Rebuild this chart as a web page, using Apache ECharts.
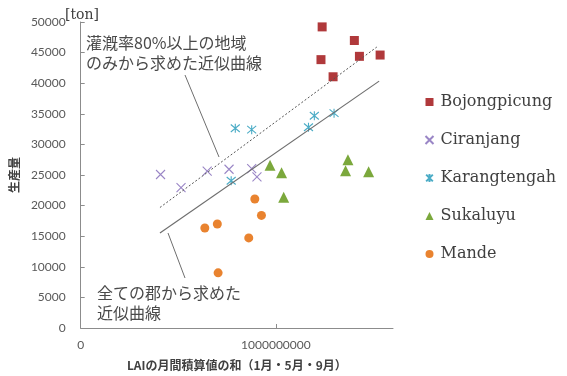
<!DOCTYPE html>
<html>
<head>
<meta charset="utf-8">
<script src="https://cdn.jsdelivr.net/npm/echarts@6/dist/echarts.min.js"></script>
<style>html,body{margin:0;padding:0;background:#fff}#c{width:567px;height:376px}</style>
</head>
<body>
<div id="c"></div>
<script>
// ---- data (x: LAI monthly accumulated sum, y: production [ton]) ----
const seriesNames = ['Bojongpicung', 'Ciranjang', 'Karangtengah', 'Sukaluyu', 'Mande'];
const bojongpicung = [[1.237e9, 49200], [1.231e9, 43850], [1.402e9, 46980], [1.428e9, 44390], [1.534e9, 44600], [1.293e9, 41050]];
const ciranjang = [[0.409e9, 25080], [0.514e9, 22930], [0.648e9, 25620], [0.760e9, 25940], [0.876e9, 26050], [0.903e9, 24710]];
const karangtengah = [[0.792e9, 32640], [0.876e9, 32410], [1.167e9, 32800], [1.197e9, 34680], [1.298e9, 35110], [0.771e9, 24060]];
const sukaluyu = [[0.970e9, 26590], [1.029e9, 25360], [1.040e9, 21360], [1.369e9, 27510], [1.357e9, 25680], [1.475e9, 25520]];
const mande = [[0.892e9, 21080], [0.926e9, 18400], [0.636e9, 16340], [0.700e9, 16990], [0.861e9, 14720], [0.704e9, 9010]];
const trendAll = [[0.406e9, 15530], [1.529e9, 40340]];
const trendIrrigated = [[0.406e9, 19690], [1.517e9, 45910]];
const xTickValues = [0, 1000000000];
const xAxisName = 'LAIの月間積算値の和（1月・5月・9月）';
const yAxisName = '生産量';
const unitLabel = '[ton]';
const noteIrrigated = '灌漑率80%以上の地域\nのみから求めた近似曲線';
const noteAll = '全ての郡から求めた\n近似曲線';

const colors = ['#B0393B', '#9A86C6', '#4BACC6', '#7BA83C', '#E9832F'];
const chart = echarts.init(document.getElementById('c'), null, {renderer: 'canvas'});
const axisColor = '#8C8C8C';
const labelFont = {color: '#595959', fontFamily: 'Lato, "Liberation Sans", sans-serif', fontSize: 12};

function scatter(name, data, symbol, size, color, stroke) {
  return {
    name: name, type: 'scatter', data: data, symbol: symbol, symbolSize: size,
    itemStyle: stroke ? {color: 'none', borderColor: color, borderWidth: 1.1, opacity: 1} : {color: color, opacity: 1},
    emphasis: {disabled: true}, z: 3
  };
}

chart.setOption({
  animation: false,
  grid: {left: 77, right: 174, top: 22, bottom: 45, containLabel: false},
  xAxis: {
    type: 'value', min: 0, max: 1.6e9,
    name: xAxisName, nameLocation: 'middle', nameGap: 31,
    nameTextStyle: {color: '#404040', fontSize: 12, fontWeight: 'bold', fontFamily: '"Noto Sans CJK JP", sans-serif'},
    axisLine: {show: true, lineStyle: {color: axisColor, width: 1}},
    axisTick: {show: true, inside: true, length: 4, customValues: [1000000000], lineStyle: {color: axisColor}},
    axisLabel: Object.assign({margin: 11, customValues: xTickValues, formatter: v => String(v)}, labelFont),
    splitLine: {show: false}
  },
  yAxis: {
    type: 'value', min: 0, max: 50000, interval: 5000,
    name: yAxisName, nameLocation: 'middle', nameGap: 56, nameRotate: 90,
    nameTextStyle: {color: '#404040', fontSize: 12, fontWeight: 'bold', fontFamily: '"Noto Sans CJK JP", sans-serif'},
    axisLine: {show: true, lineStyle: {color: axisColor, width: 1}},
    axisTick: {show: true, inside: true, length: 4, lineStyle: {color: axisColor}},
    axisLabel: Object.assign({margin: 15, formatter: v => String(v)}, labelFont),
    splitLine: {show: false}
  },
  legend: {
    orient: 'vertical', left: 418, top: 89,
    data: seriesNames,
    itemWidth: 8, itemHeight: 8, itemGap: 22,
    textStyle: {color: '#404040', fontSize: 16, fontFamily: '"DejaVu Serif", serif', lineHeight: 16, padding: [0, 0, 0, 2]}
  },
  series: [
    scatter(seriesNames[0], bojongpicung, 'rect', 9, colors[0], false),
    scatter(seriesNames[1], ciranjang, 'path://M0,0L10,10M10,0L0,10', 9, colors[1], true),
    scatter(seriesNames[2], karangtengah, 'path://M0,0L10,10M10,0L0,10M5,-1L5,11', 9, colors[2], true),
    scatter(seriesNames[3], sukaluyu, 'triangle', 11, colors[3], false),
    scatter(seriesNames[4], mande, 'circle', 9, colors[4], false),
    {type: 'line', name: 'trendAll', data: trendAll, symbol: 'none', silent: true, z: 4,
      lineStyle: {color: '#6E6E6E', width: 1.2, type: 'solid'}},
    {type: 'line', name: 'trendIrrigated', data: trendIrrigated, symbol: 'none', silent: true, z: 4,
      lineStyle: {color: '#555555', width: 1, type: [2, 2]}}
  ],
  graphic: [
    {type: 'text', left: 65, top: 8, style: {text: unitLabel, fill: '#404040', font: '14px "DejaVu Serif", serif'}},
    {type: 'text', left: 86, top: 33, style: {text: noteIrrigated, fill: '#4A4A4A', font: '16px "Noto Sans CJK JP", sans-serif', lineHeight: 20}},
    {type: 'text', left: 97, top: 283, style: {text: noteAll, fill: '#4A4A4A', font: '16px "Noto Sans CJK JP", sans-serif', lineHeight: 20}},
    {type: 'line', shape: {x1: 185, y1: 75, x2: 219, y2: 157}, style: {stroke: '#6E6E6E', lineWidth: 1}},
    {type: 'line', shape: {x1: 168, y1: 233, x2: 185, y2: 278}, style: {stroke: '#6E6E6E', lineWidth: 1}}
  ]
});
</script>
</body>
</html>
